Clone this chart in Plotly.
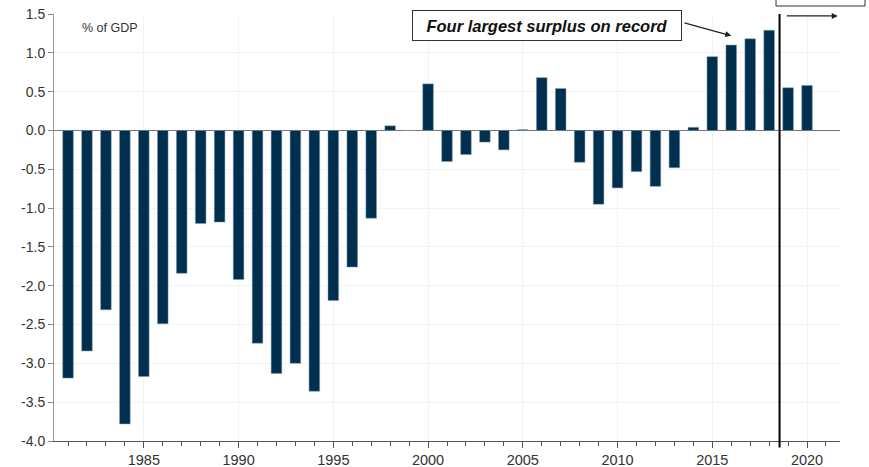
import plotly.graph_objects as go

years = list(range(1981, 2021))
balance = [-3.19, -2.84, -2.31, -3.78, -3.17, -2.49, -1.84, -1.20, -1.18, -1.92,
           -2.74, -3.13, -3.00, -3.36, -2.19, -1.76, -1.13, 0.06, 0.0, 0.60,
           -0.40, -0.31, -0.15, -0.25, 0.01, 0.68, 0.54, -0.41, -0.95, -0.74,
           -0.53, -0.72, -0.48, 0.04, 0.95, 1.10, 1.18, 1.29, 0.55, 0.58]

y_tickvals = [1.5, 1.0, 0.5, 0.0, -0.5, -1.0, -1.5, -2.0, -2.5, -3.0, -3.5, -4.0]
y_ticktext = ["1.5", "1.0", "0.5", "0.0", "-0.5", "-1.0", "-1.5", "-2.0", "-2.5", "-3.0", "-3.5", "-4.0"]
x_tickvals = [1985, 1990, 1995, 2000, 2005, 2010, 2015, 2020]

bar_color = "#00304e"
font_family = "Liberation Sans, Arial, sans-serif"

fig = go.Figure()
fig.add_trace(go.Bar(
    x=years, y=balance, width=0.56,
    marker=dict(color=bar_color, line=dict(color="#7f9bb0", width=0.5)),
    showlegend=False,
))

fig.update_layout(
    width=869, height=467,
    margin=dict(l=54, r=29, t=14, b=26),
    paper_bgcolor="white", plot_bgcolor="white",
    font=dict(family=font_family, size=14, color="#333333"),
    bargap=0.4,
)

fig.update_xaxes(
    range=[1980.26, 2021.74], automargin=False,
    tickvals=x_tickvals, ticktext=[str(v) for v in x_tickvals],
    ticks="outside", ticklen=6, tickcolor="#555555", tickwidth=1,
    showline=True, linecolor="#555555", linewidth=1,
    showgrid=True, gridcolor="#f3f3f3", gridwidth=1,
    zeroline=False,
    tickfont=dict(size=14.5, color="#333333"),
    minor=dict(dtick=1, tick0=1981, ticks="outside", ticklen=4, tickcolor="#555555", showgrid=False),
)
fig.update_yaxes(
    range=[-4.0, 1.5], automargin=False,
    tickvals=y_tickvals, ticktext=y_ticktext,
    ticks="outside", ticklen=5, tickcolor="#888888",
    showline=True, linecolor="#999999", linewidth=1,
    showgrid=True, gridcolor="#f3f3f3", gridwidth=1,
    zeroline=True, zerolinecolor="#777777", zerolinewidth=1,
    tickfont=dict(size=14, color="#333333"),
)

# vertical marker line
fig.add_shape(type="line", xref="x", yref="paper", x0=2018.55, x1=2018.55,
              y0=-0.015, y1=1.0, line=dict(color="black", width=2))

# partially visible box at top right
fig.add_shape(type="rect", xref="paper", yref="paper",
              x0=(776 - 54) / 786, x1=(865 - 54) / 786, y0=(441 - 6) / 427, y1=1.12,
              line=dict(color="#333333", width=1), fillcolor="white")

# right-pointing arrow at top right
fig.add_annotation(x=2021.62, y=1.475, ax=2018.85, ay=1.475, xref="x", yref="y",
                   axref="x", ayref="y", text="", showarrow=True,
                   arrowhead=2, arrowsize=1, arrowwidth=1.2, arrowcolor="#222222")

# labelled box
fig.add_annotation(x=2006.3, y=1.35, xref="x", yref="y",
                   text="<b><i>Four largest surplus on record</i></b>",
                   showarrow=False, font=dict(size=16.5, color="#111111", family=font_family),
                   bordercolor="#333333", borderwidth=1, borderpad=3,
                   width=262, height=23, bgcolor="white")

# arrow from box to bars
fig.add_annotation(x=2016.0, y=1.22, ax=2013.45, ay=1.39, xref="x", yref="y",
                   axref="x", ayref="y", text="", showarrow=True,
                   arrowhead=2, arrowsize=1, arrowwidth=1.2, arrowcolor="#222222")

# unit label
fig.add_annotation(x=(80 - 54) / 786, y=(441 - 28) / 427, xref="paper", yref="paper",
                   xanchor="left", yanchor="middle", text="% of GDP", showarrow=False,
                   font=dict(size=12.5, color="#333333", family=font_family))

fig.write_html("out.html")
